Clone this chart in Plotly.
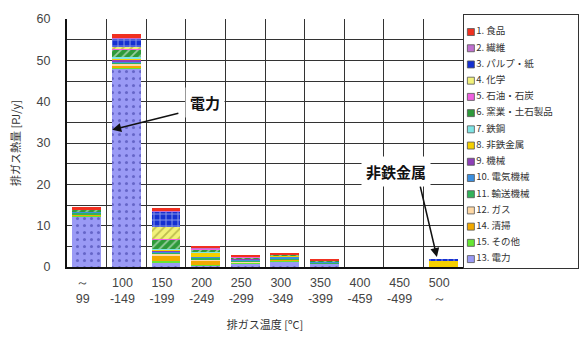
import plotly.graph_objects as go

# Temperature bands of exhaust gas
categories = ["～<br>99", "100<br>-149", "150<br>-199", "200<br>-249", "250<br>-299",
              "300<br>-349", "350<br>-399", "400<br>-459", "450<br>-499", "500<br>～"]

# Exhaust-gas heat [PJ/y] by industry, one value per temperature band
food        = [0.6, 0.8, 0.7, 0.4, 0.4, 0.4, 0.4, 0, 0, 0]      # 1. 食品
textile     = [0.0, 0.3, 0.2, 0.1, 0.0, 0.0, 0.0, 0, 0, 0]      # 2. 繊維
pulp        = [0.0, 2.0, 3.8, 0.0, 0.0, 0.0, 0.0, 0, 0, 0.4]    # 3. パルプ・紙
chemical    = [0.0, 0.5, 2.9, 0.1, 0.0, 0.0, 0.0, 0, 0, 0]      # 4. 化学
petroleum   = [0.1, 0.2, 0.1, 0.3, 0.1, 0.0, 0.0, 0, 0, 0]      # 5. 石油・石炭
ceramics    = [0.3, 1.8, 2.2, 0.5, 0.3, 0.2, 0.1, 0, 0, 0]      # 6. 窯業・土石製品
steel       = [0.1, 0.2, 0.2, 0.2, 0.0, 0.0, 0.0, 0, 0, 0]      # 7. 鉄鋼
nonferrous  = [0.1, 0.5, 0.3, 1.1, 0.1, 0.2, 0.2, 0, 0, 1.6]    # 8. 非鉄金属
machinery   = [0.0, 0.2, 0.2, 0.0, 0.2, 0.0, 0.0, 0, 0, 0]      # 9. 機械
electrical  = [0.1, 0.3, 0.3, 0.1, 0.3, 0.4, 0.2, 0, 0, 0]      # 10. 電気機械
transport   = [0.4, 0.3, 0.2, 0.4, 0.3, 0.3, 0.2, 0, 0, 0]      # 11. 輸送機械
gas         = [0.2, 0.5, 0.6, 0.3, 0.1, 0.0, 0.0, 0, 0, 0]      # 12. ガス
cleaning    = [0.2, 0.5, 1.2, 1.0, 0.1, 0.2, 0.0, 0, 0, 0]      # 14. 清掃
others      = [0.1, 0.2, 0.4, 0.2, 0.1, 0.2, 0.0, 0, 0, 0]      # 15. その他
power       = [12.3, 48.0, 1.0, 0.3, 0.9, 1.4, 0.8, 0, 0, 0]    # 13. 電力

# Stacking order from the bottom up: (name, values, color, pattern shape, pattern color)
series = [
    ("13. 電力", power, "#9A9AF5", ".", "#30309A"),
    ("15. その他", others, "#66E633", "", None),
    ("14. 清掃", cleaning, "#F2A900", "", None),
    ("12. ガス", gas, "#FFD9A6", "", None),
    ("11. 輸送機械", transport, "#33B35A", "", None),
    ("10. 電気機械", electrical, "#3B8FE0", "", None),
    ("9. 機械", machinery, "#8E3FB8", "", None),
    ("8. 非鉄金属", nonferrous, "#F5D000", "", None),
    ("7. 鉄鋼", steel, "#7FE5E5", "", None),
    ("6. 窯業・土石製品", ceramics, "#2E9A3A", "/", "#FFFFFF"),
    ("5. 石油・石炭", petroleum, "#F060E0", "", None),
    ("4. 化学", chemical, "#F2F27A", "/", "#8A8A20"),
    ("3. パルプ・紙", pulp, "#1530D0", "+", "#FFFFFF"),
    ("2. 繊維", textile, "#C070D0", "", None),
    ("1. 食品", food, "#F03020", "", None),
]

FONT = "Noto Sans CJK JP"
NUMFONT = "Liberation Sans, Arial"
x_pos = list(range(len(categories)))

fig = go.Figure()
for name, vals, color, shape, fg in series:
    marker = dict(color=color, line=dict(width=0))
    if shape == ".":
        marker["pattern"] = dict(shape=shape, fgcolor=fg, size=7, solidity=0.15,
                                 fillmode="overlay")
    elif shape:
        marker["pattern"] = dict(shape=shape, fgcolor=fg, size=6, solidity=0.3,
                                 fillmode="overlay")
    fig.add_trace(go.Bar(name=name, x=x_pos, y=vals, marker=marker, width=0.73,
                         showlegend=False))

# invisible trace on a second x axis that only carries the category-boundary grid
fig.add_trace(go.Scatter(x=[-0.5, 9.5], y=[0, 0], xaxis="x2", mode="lines",
                         line=dict(width=0), showlegend=False, hoverinfo="skip"))

# legend panel: one swatch + label per series, listed from 1. down to 13.
legend_rows = list(reversed(series))
fig.add_trace(go.Scatter(
    x=[0.06] * len(legend_rows),
    y=list(range(len(legend_rows))),
    xaxis="x3", yaxis="y3",
    mode="markers+text",
    marker=dict(symbol="square", size=7,
                color=[s[2] for s in legend_rows],
                line=dict(color="#555555", width=0.8)),
    text=[s[0] for s in legend_rows],
    textposition="middle right",
    textfont=dict(family=FONT, size=9.5, color="#333333"),
    showlegend=False, hoverinfo="skip",
))

fig.update_layout(
    barmode="stack",
    width=581, height=337,
    margin=dict(l=67, r=3, t=15, b=69),
    paper_bgcolor="white",
    plot_bgcolor="white",
    font=dict(family=FONT, size=12, color="#333333"),
    showlegend=False,
    xaxis=dict(
        domain=[0, 0.775],
        range=[-0.5, 9.5],
        tickmode="array", tickvals=x_pos, ticktext=categories,
        showgrid=False, zeroline=False,
        showline=True, linecolor="#111111", linewidth=2,
        ticks="", ticklabelshift=-4, ticklabelstandoff=3,
        tickfont=dict(family=NUMFONT, size=12.5, color="#444444"),
        title=dict(text="排ガス温度 [ºC]", font=dict(family=FONT, size=11, color="#333333"),
                   standoff=16),
    ),
    xaxis2=dict(
        overlaying="x", range=[-0.5, 9.5], tick0=-0.5, dtick=1,
        showgrid=True, gridcolor="#333333", gridwidth=1,
        showticklabels=False, ticks="", zeroline=False, side="bottom",
        layer="below traces",
    ),
    yaxis=dict(
        domain=[0.004, 0.984],
        range=[0, 60], tick0=0, dtick=10,
        showgrid=True, gridcolor="#333333", gridwidth=1,
        zeroline=False,
        showline=True, linecolor="#111111", linewidth=2,
        ticks="", ticklabelstandoff=12,
        minor=dict(dtick=5, showgrid=True, gridcolor="#333333", gridwidth=1),
        tickfont=dict(family=NUMFONT, size=12.5, color="#444444"),
        title=dict(text="排ガス熱量 [PJ/y]", font=dict(family=FONT, size=11, color="#333333"),
                   standoff=14),
    ),
    xaxis3=dict(
        domain=[0.777, 1.0], range=[0, 1], anchor="y3",
        showgrid=False, zeroline=False, showticklabels=False, ticks="",
        showline=True, mirror=True, linecolor="#333333", linewidth=1,
        fixedrange=True,
    ),
    yaxis3=dict(
        domain=[0, 1], range=[14.55, -1.05], anchor="x3",
        showgrid=False, zeroline=False, showticklabels=False, ticks="",
        showline=True, mirror=True, linecolor="#333333", linewidth=1,
        fixedrange=True,
    ),
)

# callouts
fig.add_annotation(x=0.64, y=33.2, ax=2.35, ay=37.3, axref="x", ayref="y",
                   xref="x", yref="y", text="", showarrow=True,
                   arrowhead=2, arrowsize=1.2, arrowwidth=1.5, arrowcolor="#111111")
fig.add_annotation(x=2.98, y=39.7, xref="x", yref="y", text="<b>電力</b>",
                   showarrow=False, bgcolor="white", borderpad=4,
                   font=dict(family=FONT, size=15, color="#111111"))
fig.add_annotation(x=8.84, y=2.4, ax=8.41, ay=19.9, axref="x", ayref="y",
                   xref="x", yref="y", text="", showarrow=True,
                   arrowhead=2, arrowsize=1.2, arrowwidth=1.5, arrowcolor="#111111")
fig.add_annotation(x=7.81, y=23.0, xref="x", yref="y", text="<b>非鉄金属</b>",
                   showarrow=False, bgcolor="white", borderpad=4,
                   font=dict(family=FONT, size=15, color="#111111"))

fig.write_html("out.html")
